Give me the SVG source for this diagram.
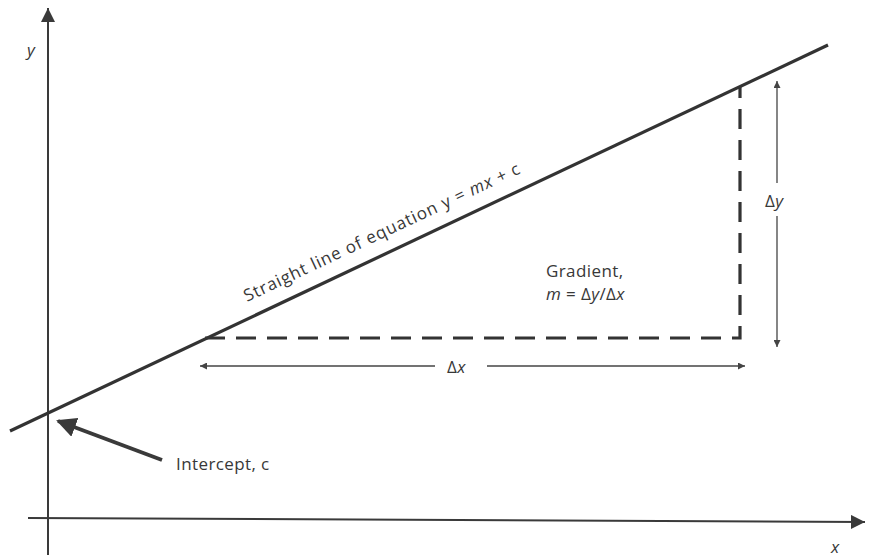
<svg xmlns="http://www.w3.org/2000/svg" width="872" height="557" viewBox="0 0 872 557">
<style>
.ax{stroke:#3a3a3a;stroke-width:2;fill:none}
.thin{stroke:#444;stroke-width:1.3;fill:none}
.dash{stroke:#333;stroke-width:3.2;fill:none;stroke-dasharray:20 11}
.t{font-family:"Open Sans","Liberation Sans",sans-serif;font-size:17px;fill:#383838;letter-spacing:0.4px}
.i{font-style:italic}
.rot{letter-spacing:0.9px}
</style>
<defs>
<marker id="ah" viewBox="0 0 10 10" refX="10" refY="5" markerWidth="7" markerHeight="7" markerUnits="userSpaceOnUse" orient="auto"><path d="M0,0L10,5L0,10z" fill="#444"/></marker>
<marker id="ahb" viewBox="0 0 10 10" refX="10" refY="5" markerWidth="14" markerHeight="14" markerUnits="userSpaceOnUse" orient="auto"><path d="M0,0L10,5L0,10z" fill="#3a3a3a"/></marker>
<marker id="ahi" viewBox="0 0 10 10" refX="9" refY="5" markerWidth="5" markerHeight="5" orient="auto"><path d="M0,0L10,5L0,10z" fill="#3a3a3a"/></marker>
</defs>
<rect width="872" height="557" fill="#fff"/>
<g id="connectors">
<line class="ax" x1="48" y1="555" x2="48" y2="8" marker-end="url(#ahb)"/>
<line class="ax" x1="28" y1="518" x2="865" y2="522" marker-end="url(#ahb)"/>
<line x1="10" y1="431" x2="828" y2="45" stroke="#333" stroke-width="3.2"/>
<polyline class="dash" points="205,338 740,338 740,87"/>
<line class="thin" x1="777" y1="183" x2="777" y2="81" marker-end="url(#ah)"/>
<line class="thin" x1="777" y1="216" x2="777" y2="347" marker-end="url(#ah)"/>
<line class="thin" x1="435" y1="366" x2="200" y2="366" marker-end="url(#ah)"/>
<line class="thin" x1="487" y1="366" x2="745" y2="366" marker-end="url(#ah)"/>
<line x1="162" y1="460" x2="58" y2="421" stroke="#3a3a3a" stroke-width="4" marker-end="url(#ahi)"/>
</g>
<g id="labels">
<text class="t i" x="27" y="56">y</text>
<text class="t i" x="831" y="553">x</text>
<text class="t rot" transform="translate(247,302) rotate(-25.2)">Straight line of equation y = <tspan class="i">mx</tspan> + c</text>
<text class="t" x="546" y="277">Gradient,</text>
<text class="t" x="546" y="300"><tspan class="i">m</tspan> = Δ<tspan class="i">y</tspan>/Δ<tspan class="i">x</tspan></text>
<text class="t" x="765" y="207">Δ<tspan class="i">y</tspan></text>
<text class="t" x="447" y="373">Δ<tspan class="i">x</tspan></text>
<text class="t" x="176" y="470">Intercept, c</text>
</g>
</svg>
